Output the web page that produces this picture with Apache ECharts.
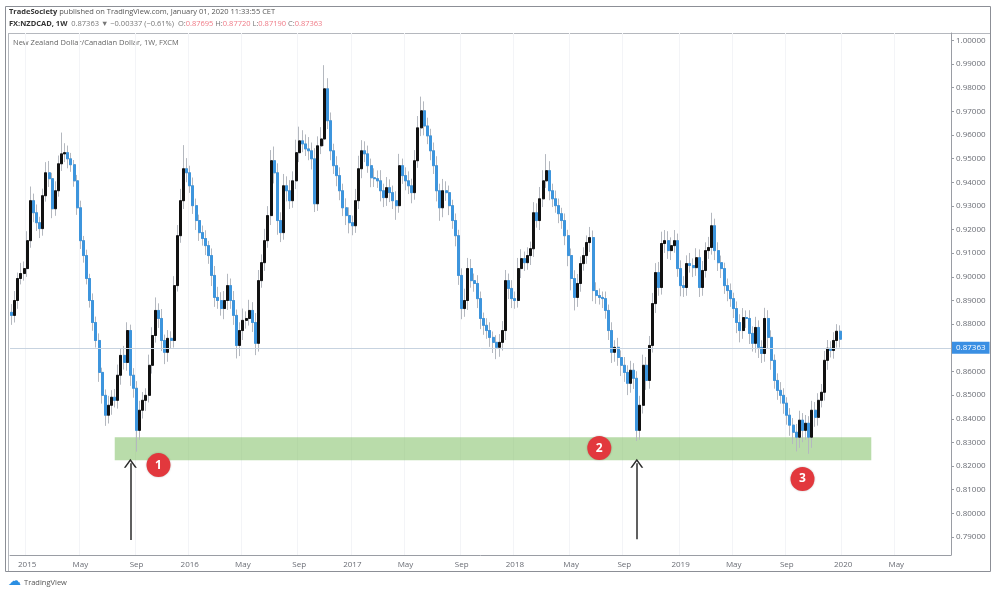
<!DOCTYPE html>
<html>
<head>
<meta charset="utf-8">
<script src="https://cdn.jsdelivr.net/npm/echarts@6/dist/echarts.min.js"></script>
<style>
  html, body { margin: 0; padding: 0; background: #fff; }
  #chart { width: 993px; height: 594px; }
</style>
</head>
<body>
<div id="chart"></div>
<script>
// weekly bars, first bar is the week of 2014-12-01
const startDate = '2014-12-01'
const weekCount = 301 // axis runs on past the last bar (empty space on the right)

// weekly closes
const closes = [
  0.8837, 0.8900, 0.8993, 0.9014, 0.9035, 0.9153, 0.9322, 0.9271, 0.9229, 0.9204,
  0.9343, 0.9440, 0.9415, 0.9288, 0.9364, 0.9478, 0.9520, 0.9525, 0.9499, 0.9474,
  0.9406, 0.9292, 0.9153, 0.9090, 0.8993, 0.8900, 0.8807, 0.8731, 0.8596, 0.8499,
  0.8415, 0.8457, 0.8491, 0.8478, 0.8584, 0.8668, 0.8638, 0.8773, 0.8584, 0.8529,
  0.8351, 0.8436, 0.8478, 0.8499, 0.8626, 0.8752, 0.8858, 0.8824, 0.8731, 0.8681,
  0.8740, 0.8731, 0.8963, 0.9174, 0.9322, 0.9457, 0.9440, 0.9385, 0.9301, 0.9238,
  0.9187, 0.9162, 0.9132, 0.9090, 0.9006, 0.8913, 0.8900, 0.8866, 0.8900, 0.8963,
  0.8900, 0.8837, 0.8710, 0.8773, 0.8816, 0.8824, 0.8858, 0.8807, 0.8719, 0.8984,
  0.9060, 0.9153, 0.9259, 0.9491, 0.9440, 0.9238, 0.9187, 0.9385, 0.9364, 0.9322,
  0.9406, 0.9525, 0.9575, 0.9562, 0.9541, 0.9533, 0.9499, 0.9309, 0.9554, 0.9583,
  0.9795, 0.9660, 0.9533, 0.9470, 0.9428, 0.9364, 0.9292, 0.9259, 0.9229, 0.9216,
  0.9322, 0.9457, 0.9533, 0.9520, 0.9470, 0.9419, 0.9415, 0.9406, 0.9364, 0.9335,
  0.9377, 0.9356, 0.9322, 0.9301, 0.9470, 0.9428, 0.9406, 0.9385, 0.9356, 0.9491,
  0.9630, 0.9702, 0.9638, 0.9596, 0.9533, 0.9470, 0.9364, 0.9292, 0.9364, 0.9356,
  0.9301, 0.9238, 0.9174, 0.9006, 0.8866, 0.8900, 0.9035, 0.8984, 0.8972, 0.8908,
  0.8824, 0.8795, 0.8773, 0.8744, 0.8723, 0.8702, 0.8723, 0.8773, 0.8984, 0.8951,
  0.8908, 0.8900, 0.9035, 0.9077, 0.9060, 0.9090, 0.9119, 0.9271, 0.9238, 0.9330,
  0.9406, 0.9449, 0.9364, 0.9330, 0.9301, 0.9267, 0.9238, 0.9174, 0.9090, 0.8993,
  0.8913, 0.8972, 0.9056, 0.9090, 0.9145, 0.9166, 0.8942, 0.8921, 0.8913, 0.8908,
  0.8858, 0.8773, 0.8681, 0.8702, 0.8659, 0.8626, 0.8596, 0.8550, 0.8605, 0.8571,
  0.8351, 0.8457, 0.8626, 0.8562, 0.8710, 0.8887, 0.9018, 0.8955, 0.9141, 0.9153,
  0.9111, 0.9132, 0.9153, 0.9035, 0.8963, 0.8955, 0.9056, 0.9048, 0.9039, 0.9081,
  0.8955, 0.9027, 0.9111, 0.9124, 0.9216, 0.9111, 0.9060, 0.9035, 0.8963, 0.8942,
  0.8908, 0.8866, 0.8807, 0.8773, 0.8828, 0.8824, 0.8761, 0.8719, 0.8786, 0.8702,
  0.8676, 0.8824, 0.8744, 0.8647, 0.8562, 0.8520, 0.8499, 0.8466, 0.8415, 0.8373,
  0.8343, 0.8322, 0.8394, 0.8351, 0.8381, 0.8322, 0.8436, 0.8406, 0.8478, 0.8512,
  0.8647, 0.8698, 0.8689, 0.8731, 0.8770, 0.87363
]
const firstOpen = 0.8850

// wick lengths in pips, above the body and below it
const upWicks = [
  35, 40, 25, 45, 30, 40, 60, 30, 35, 25,   30, 45, 50, 25, 40, 35, 90, 40, 30, 25,
  20, 25, 30, 20, 25, 20, 30, 25, 30, 20,   25, 40, 30, 35, 45, 30, 40, 35, 25, 30,
  30, 40, 35, 30, 45, 35, 55, 30, 40, 25,   35, 30, 40, 45, 50, 100, 45, 30, 35, 30,
  25, 30, 35, 20, 30, 40, 45, 35, 40, 50,   30, 40, 25, 35, 50, 30, 45, 35, 40, 45,
  35, 50, 40, 45, 60, 40, 35, 50, 40, 45,   40, 55, 60, 45, 40, 50, 35, 45, 40, 50,
  100, 45, 35, 30, 40, 35, 30, 40, 35, 30,  50, 55, 45, 40, 35, 30, 40, 35, 45, 30,
  45, 35, 30, 40, 50, 30, 35, 40, 30, 45,   50, 60, 40, 35, 30, 35, 40, 30, 50, 40,
  30, 25, 30, 25, 30, 50, 45, 40, 30, 35,   30, 25, 30, 35, 25, 30, 35, 40, 45, 30,
  35, 30, 45, 40, 30, 35, 30, 45, 40, 50,   45, 70, 40, 30, 35, 30, 25, 30, 25, 30,
  35, 40, 30, 35, 30, 45, 30, 35, 30, 25,   30, 25, 35, 30, 40, 30, 35, 30, 40, 30,
  30, 40, 45, 35, 40, 45, 40, 45, 50, 45,   40, 35, 45, 30, 35, 40, 35, 45, 30, 40,
  35, 40, 35, 45, 55, 30, 35, 30, 25, 30,   30, 25, 30, 35, 40, 30, 35, 30, 45, 30,
  30, 45, 35, 30, 25, 30, 35, 30, 25, 30,   30, 35, 40, 30, 35, 30, 40, 35, 30, 35,
  40, 35, 30, 35, 30, 25
]
const downWicks = [
  40, 30, 35, 25, 30, 35, 30, 40, 35, 40,   30, 25, 35, 40, 30, 25, 30, 35, 40, 30,
  25, 30, 35, 30, 25, 30, 35, 30, 40, 35,   45, 35, 40, 30, 35, 40, 30, 35, 45, 40,
  90, 40, 35, 45, 30, 35, 30, 40, 45, 50,   40, 35, 30, 25, 30, 35, 40, 30, 35, 40,
  35, 30, 40, 35, 45, 40, 35, 30, 45, 40,   35, 40, 55, 45, 40, 35, 30, 40, 50, 35,
  30, 35, 30, 40, 45, 60, 40, 30, 45, 35,   30, 35, 40, 35, 30, 40, 45, 35, 30, 35,
  30, 35, 40, 35, 45, 40, 35, 40, 45, 40,   30, 35, 40, 35, 30, 40, 35, 30, 45, 40,
  35, 40, 35, 60, 30, 35, 40, 35, 45, 30,   30, 35, 40, 35, 40, 35, 45, 55, 40, 35,
  40, 35, 45, 40, 45, 35, 40, 30, 35, 40,   45, 40, 35, 40, 45, 50, 40, 35, 40, 45,
  40, 35, 30, 40, 35, 30, 40, 35, 30, 40,   35, 30, 40, 35, 30, 40, 35, 40, 45, 50,
  55, 40, 35, 30, 35, 40, 45, 35, 30, 40,   35, 40, 45, 40, 35, 45, 40, 50, 40, 45,
  45, 40, 35, 40, 35, 30, 40, 35, 30, 40,   35, 40, 30, 35, 45, 40, 35, 30, 40, 35,
  40, 35, 30, 35, 30, 40, 35, 40, 35, 45,   35, 40, 45, 50, 35, 40, 45, 35, 40, 45,
  40, 35, 45, 40, 35, 40, 35, 45, 40, 45,   50, 60, 45, 50, 40, 70, 45, 40, 35, 30,
  35, 40, 30, 35, 30, 35
]

const yTicks = [0.79, 0.80, 0.81, 0.82, 0.83, 0.84, 0.85, 0.86, 0.87, 0.88, 0.89,
  0.90, 0.91, 0.92, 0.93, 0.94, 0.95, 0.96, 0.97, 0.98, 0.99, 1.00]
const monthLabels = { 0: null, 4: 'May', 8: 'Sep' } // null -> year

// support zone and annotations (bar index, price)
const zoneBars = [33, 275]
const zonePrices = [0.8225, 0.8322]
const badges = [
  { text: '1', bar: 47, price: 0.8204 },
  { text: '2', bar: 188, price: 0.8276 },
  { text: '3', bar: 253, price: 0.8145 }
]
const arrows = [
  { bar: 38, from: 0.7887, to: 0.8212 },
  { bar: 200, from: 0.7891, to: 0.8212 }
]
const lastPrice = 0.87363

const UP = '#111111'
const DOWN = '#3d95dd'
const WICK = '#b4b8bf'

const dates = []
const t0 = Date.parse(startDate + 'T00:00:00Z')
for (let i = 0; i < weekCount; i++) {
  dates.push(new Date(t0 + i * 7 * 86400000).toISOString().slice(0, 10))
}

const opens = closes.map((c, i) => (i ? closes[i - 1] : firstOpen))
const wickData = closes.map((c, i) => {
  const o = opens[i]
  return [o, c, Math.min(o, c) - downWicks[i] / 1e4, Math.max(o, c) + upWicks[i] / 1e4]
})
const bodyData = closes.map((c, i) => {
  const o = opens[i]
  return [o, c, Math.min(o, c), Math.max(o, c)]
})

const isLabelWeek = (value) => {
  const d = new Date(value + 'T00:00:00Z')
  return d.getUTCDate() <= 7 && (d.getUTCMonth() in monthLabels)
}

const chevron = 'path://M0,10 L5,0 L10,10 L8.6,10 L5,2.8 L1.4,10 Z'

const chart = echarts.init(document.getElementById('chart'))

chart.setOption({
  animation: false,
  backgroundColor: '#fff',
  grid: { left: 10, right: 42, top: 33, bottom: 39 },
  xAxis: {
    type: 'category',
    data: dates,
    boundaryGap: true,
    axisLine: { lineStyle: { color: '#9a9da4' } },
    axisTick: { show: false },
    axisLabel: {
      interval: (idx, value) => isLabelWeek(value),
      formatter: (value) => {
        const d = new Date(value + 'T00:00:00Z')
        const m = d.getUTCMonth()
        return monthLabels[m] || String(d.getUTCFullYear())
      },
      color: '#6a6d75',
      fontSize: 8,
      fontFamily: 'Open Sans',
      margin: 6
    },
    splitLine: {
      show: true,
      interval: (idx, value) => isLabelWeek(value),
      lineStyle: { color: '#f3f4f7' }
    }
  },
  yAxis: {
    type: 'value',
    position: 'right',
    min: 0.7824,
    max: 1.0031,
    axisLine: { show: true, lineStyle: { color: '#9a9da4' } },
    axisTick: { show: true, length: 3, customValues: yTicks, lineStyle: { color: '#9a9da4' } },
    axisLabel: {
      customValues: yTicks,
      formatter: (v) => v.toFixed(5),
      color: '#6a6d75',
      fontSize: 8,
      fontFamily: 'Open Sans',
      margin: 5
    },
    splitLine: { show: false }
  },
  graphic: [
    { type: 'rect', silent: true, shape: { x: 5.5, y: 6.5, width: 985, height: 565 },
      style: { fill: 'none', stroke: '#8c8f96', lineWidth: 1 } },
    { type: 'line', silent: true, shape: { x1: 8, y1: 33.5, x2: 990, y2: 33.5 },
      style: { stroke: '#b5b8be', lineWidth: 1 } },
    { type: 'line', silent: true, shape: { x1: 8.5, y1: 33, x2: 8.5, y2: 571 },
      style: { stroke: '#b5b8be', lineWidth: 1 } },
    {
      type: 'text', left: 9, top: 8, silent: true,
      style: {
        text: '{b|TradeSociety} published on TradingView.com, January 01, 2020 11:33:55 CET',
        fill: '#555', font: '7.5px "Open Sans"',
        rich: { b: { fontWeight: 'bold', fill: '#333', fontSize: 7.5, fontFamily: 'Open Sans' } }
      }
    },
    {
      type: 'text', left: 9, top: 20, silent: true,
      style: {
        text: '{b|FX:NZDCAD, 1W}  {g|0.87363 ▼ −0.00337 (−0.61%)}  {g|O:}{r|0.87695} {g|H:}{r|0.87720} {g|L:}{r|0.87190} {g|C:}{r|0.87363}',
        fill: '#555', font: '7.5px "Open Sans"',
        rich: {
          b: { fontWeight: 'bold', fill: '#333', fontSize: 7.5, fontFamily: 'Open Sans' },
          g: { fill: '#777', fontSize: 7.5, fontFamily: 'Open Sans' },
          r: { fill: '#ef7a86', fontSize: 7.5, fontFamily: 'Open Sans' }
        }
      }
    },
    {
      type: 'text', left: 13, top: 39, silent: true,
      style: { text: 'New Zealand Dollar/Canadian Dollar, 1W, FXCM', fill: '#666', font: '7.5px "Open Sans"' }
    },
    {
      type: 'text', left: 8, top: 575, silent: true,
      style: { text: '☁', fill: '#2a8fe3', font: '13px "DejaVu Sans"' }
    },
    {
      type: 'text', left: 24, top: 579, silent: true,
      style: { text: 'TradingView', fill: '#555', font: '7.5px "Open Sans"' }
    }
  ],
  series: [
    {
      name: 'wicks',
      type: 'candlestick',
      data: wickData,
      barWidth: '80%',
      silent: true,
      itemStyle: { color: WICK, color0: WICK, borderColor: WICK, borderColor0: WICK, borderWidth: 1 },
      markArea: {
        silent: true,
        itemStyle: { color: 'rgba(128, 192, 100, 0.55)' },
        data: [[
          { xAxis: dates[zoneBars[0]], yAxis: zonePrices[1] },
          { xAxis: dates[zoneBars[1]], yAxis: zonePrices[0] }
        ]]
      }
    },
    {
      name: 'NZDCAD',
      type: 'candlestick',
      data: bodyData,
      barWidth: '80%',
      itemStyle: { color: UP, color0: DOWN, borderColor: UP, borderColor0: DOWN, borderWidth: 1 },
      markLine: {
        silent: true,
        symbol: ['none', 'none'],
        data: [
          {
            yAxis: lastPrice,
            lineStyle: { color: '#c7d3e0', width: 1, type: 'solid' },
            label: {
              show: true, position: 'end', distance: 1,
              formatter: lastPrice.toFixed(5),
              color: '#fff', backgroundColor: '#3a8fe3',
              padding: [2, 4], fontSize: 8, fontFamily: 'Open Sans'
            }
          },
          ...arrows.map(a => [
            { coord: [dates[a.bar], a.from], symbol: 'none',
              lineStyle: { color: '#2b2b2b', width: 1.5, type: 'solid' }, label: { show: false } },
            { coord: [dates[a.bar], a.to], symbol: chevron, symbolSize: [13, 9] }
          ])
        ]
      },
      markPoint: {
        silent: true,
        symbol: 'circle',
        symbolSize: 24,
        itemStyle: { color: '#e2383d', shadowColor: 'rgba(0,0,0,0.25)', shadowBlur: 2 },
        label: { show: true, color: '#fff', fontSize: 12, fontWeight: 'bold', fontFamily: 'Open Sans' },
        data: badges.map(b => ({ coord: [dates[b.bar], b.price], value: b.text }))
      }
    }
  ]
})
</script>
</body>
</html>
